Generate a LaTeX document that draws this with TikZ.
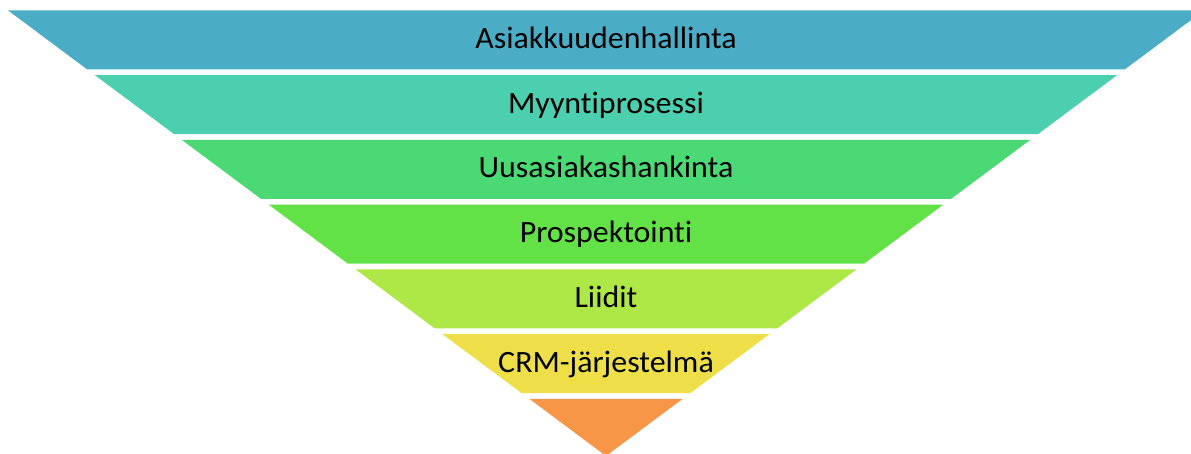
\documentclass[tikz,border=0pt]{standalone}
\usepackage{fontspec}
\setmainfont[Ligatures=NoCommon, FakeStretch=1.03]{Carlito}
\definecolor{bandA}{HTML}{4BACC6}
\definecolor{bandB}{HTML}{4BCFAF}
\definecolor{bandC}{HTML}{4AD975}
\definecolor{bandD}{HTML}{62E246}
\definecolor{bandE}{HTML}{ADE846}
\definecolor{bandF}{HTML}{EEDF48}
\definecolor{bandG}{HTML}{F79646}
\begin{document}
\begin{tikzpicture}[x=1pt,y=1pt,
  tier/.style={fill=#1, draw=none},
  tierlabel/.style={font=\fontsize{31}{37}\selectfont, text=black, anchor=base, inner sep=0pt}]
\useasboundingbox (0,0) rectangle (1191,454);
\clip (0,0) rectangle (1191,454);
% funnel axis, apex and slope of the sides
\def\cx{606}
\def\apex{456}
\def\slope{1.342}
% six trapezoid tiers
\foreach \i/\col in {0/bandA,1/bandB,2/bandC,3/bandD,4/bandE,5/bandF}{
  \pgfmathsetmacro\t{10.5+64.75*\i}
  \pgfmathsetmacro\b{\t+59}
  \pgfmathsetmacro\wt{(\apex-\t)*\slope}
  \pgfmathsetmacro\wb{(\apex-\b)*\slope}
  \fill[tier=\col] (\cx-\wt,454-\t) -- (\cx+\wt,454-\t) -- (\cx+\wb,454-\b) -- (\cx-\wb,454-\b) -- cycle;
}
% bottom triangle
\pgfmathsetmacro\t{10.5+64.75*6}
\pgfmathsetmacro\wt{(\apex-\t)*\slope}
\fill[tier=bandG] (\cx-\wt,454-\t) -- (\cx+\wt,454-\t) -- (\cx,454-\apex) -- cycle;
% tier labels
\node[tierlabel] (lab1) at (\cx,454-40-8.8) {Asiakkuudenhallinta};
\node[tierlabel] (lab2) at (\cx,454-104.75-8.5) {Myyntiprosessi};
\node[tierlabel] (lab3) at (\cx,454-169.5-8.5) {Uusasiakashankinta};
\node[tierlabel] (lab4) at (\cx,454-234.25-8.5) {Prospektointi};
\node[tierlabel] (lab5) at (\cx,454-299-8.5) {Liidit};
\node[tierlabel] (lab6) at (\cx,454-363.75-8.5) {CRM-järjestelmä};
\end{tikzpicture}
\end{document}
